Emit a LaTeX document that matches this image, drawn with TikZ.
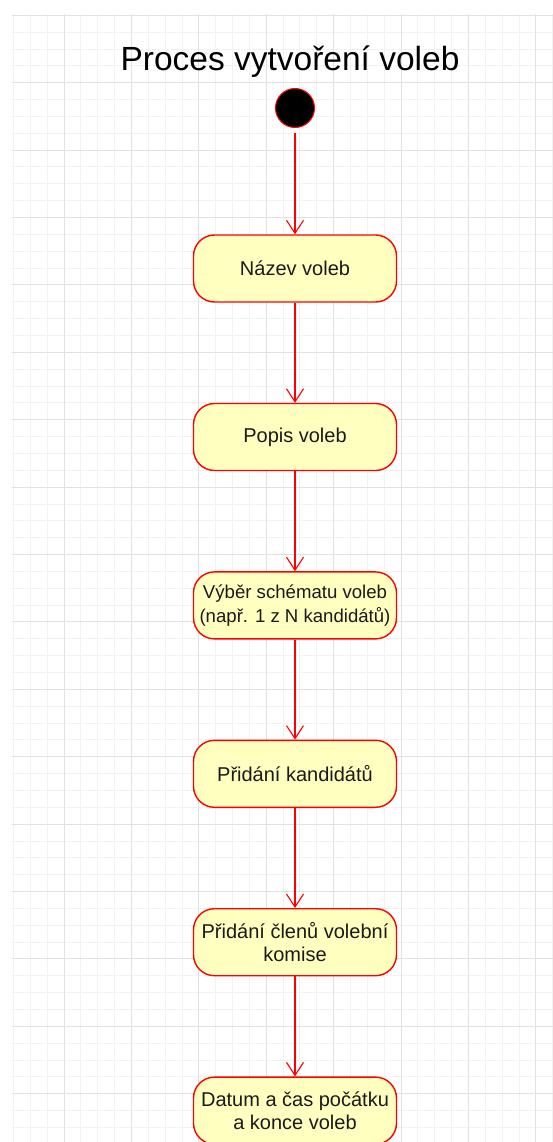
\documentclass[tikz,border=0pt]{standalone}
\usepackage{fontspec}
\setmainfont{Liberation Sans}
\usetikzlibrary{arrows.meta}
\definecolor{gridminor}{HTML}{F2F2F2}
\definecolor{gridmajor}{HTML}{E2E2E2}
\definecolor{actfill}{HTML}{FFFFC0}
\definecolor{actline}{HTML}{FF0000}
\definecolor{acttext}{HTML}{1A1A1A}
\begin{document}
\begin{tikzpicture}[x=1pt,y=-1pt,
  action/.style={draw=actline, fill=actfill, line width=1.4pt,
    rounded corners=21pt, minimum width=203pt, minimum height=67pt,
    align=center, inner xsep=1pt, inner ysep=2pt, text=acttext,
    font=\fontsize{20}{23.5}\selectfont},
  initial/.style={circle, fill=black, draw=actline, line width=1pt,
    minimum size=39pt, inner sep=0pt},
  flow/.style={draw=actline, line width=1.1pt,
    -{Straight Barb[length=13pt,width=17pt,line width=1.1pt]}},
  minorline/.style={draw=gridminor, line width=0.9pt},
  majorline/.style={draw=gridmajor, line width=0.9pt}]

% page background
\fill[white] (0,0) rectangle (553,1142);
\useasboundingbox (0,0) rectangle (553,1142);

% drawing grid: minor lines every 16.85pt, major every fourth
\foreach \k in {0,...,32}
  \draw[minorline] ({13.45+\k*16.85},14) -- ({13.45+\k*16.85},1142);
\foreach \k in {0,...,66}
  \draw[minorline] (12,{15.3+\k*16.85}) -- (553,{15.3+\k*16.85});
\foreach \k in {0,...,7}
  \draw[majorline] ({64+\k*67.4},14) -- ({64+\k*67.4},1142);
\foreach \k in {0,...,16}
  \draw[majorline] (12,{15.3+\k*67.4}) -- (553,{15.3+\k*67.4});

% title
\node[anchor=base, font=\fontsize{33.5}{40}\selectfont, text=black, inner sep=0pt]
  (title) at (290,70.7) {Proces vytvoření voleb};

% activity nodes
\node[initial] (start) at (295,108) {};
\node[action] (nazev)   at (295,268.5)  {Název voleb};
\node[action] (popis)   at (295,437)    {Popis voleb};
\node[action, font=\fontsize{18.6}{23.5}\selectfont]
              (schema)  at (295,605.4)  {Výběr schématu voleb\\(např. 1 z N kandidátů)};
\node[action] (kand)    at (295,773.8)  {Přidání kandidátů};
\node[action] (komise)  at (295,942.2)  {Přidání členů volební\\komise};
\node[action] (datum)   at (295,1110.6) {Datum a čas počátku\\a konce voleb};

% control flow
\draw[flow, shorten <=5pt] (start) -- (nazev);
\draw[flow] (nazev) -- (popis);
\draw[flow] (popis) -- (schema);
\draw[flow] (schema) -- (kand);
\draw[flow] (kand) -- (komise);
\draw[flow] (komise) -- (datum);
\end{tikzpicture}
\end{document}
